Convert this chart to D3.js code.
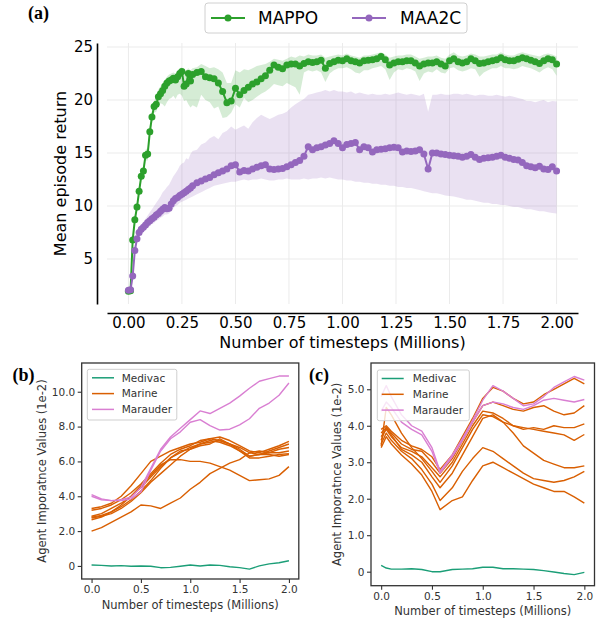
<!DOCTYPE html>
<html><head><meta charset="utf-8">
<script src="https://cdn.jsdelivr.net/npm/d3@7"></script>
<style>body{margin:0;background:#fff}svg{display:block}</style>
</head><body><svg id="chart" width="603" height="618" font-family="DejaVu Sans, sans-serif"></svg>
<script>
// ---------- Panel (a) data ----------
const steps = [
 0.00,0.01,0.02,0.03,0.04,0.05,0.06,0.07,0.08,0.09,
 0.10,0.11,0.12,0.13,0.14,0.15,0.16,0.17,0.18,0.19,
 0.20,0.21,0.22,0.23,0.24,0.25,0.26,0.27,0.28,0.29,0.30,
 0.32,0.34,0.36,0.38,0.40,0.42,0.44,0.46,0.48,0.50,
 0.52,0.54,0.56,0.58,0.60,0.62,0.64,0.66,0.68,0.70,
 0.72,0.74,0.76,0.78,0.80,0.82,0.84,0.86,0.88,0.90,
 0.92,0.94,0.96,0.98,1.00,1.02,1.04,1.06,1.08,1.10,
 1.12,1.14,1.16,1.18,1.20,1.22,1.24,1.26,1.28,1.30,
 1.32,1.34,1.36,1.38,1.40,1.42,1.44,1.46,1.48,1.50,
 1.52,1.54,1.56,1.58,1.60,1.62,1.64,1.66,1.68,1.70,
 1.72,1.74,1.76,1.78,1.80,1.82,1.84,1.86,1.88,1.90,
 1.92,1.94,1.96,1.98,2.00];
const mappoMean = [
 1.95,2.0,6.8,8.7,9.9,11.4,12.8,13.3,14.8,14.9,
 17.0,18.4,19.4,19.6,20.3,20.6,20.9,21.3,21.6,21.8,
 21.9,22.05,21.9,22.2,22.5,22.7,21.3,21.5,22.5,21.8,22.4,
 22.6,22.7,22.2,22.1,22.0,21.6,20.8,19.75,19.9,21.1,
 20.5,20.9,21.2,21.5,21.7,22.0,22.3,22.8,23.3,23.1,
 22.95,23.3,23.4,23.4,23.2,23.45,23.6,23.55,23.6,23.75,
 23.0,23.45,23.6,23.75,23.7,23.9,23.7,23.6,23.5,23.7,
 23.75,23.8,23.9,24.1,23.8,23.3,23.5,23.6,23.6,23.7,
 23.7,23.5,23.2,23.4,23.5,23.5,23.6,23.4,23.2,23.7,
 23.9,23.6,23.5,23.6,23.9,23.7,23.45,23.5,23.6,23.7,
 23.8,24.0,23.8,23.7,23.7,23.85,24.0,23.9,23.75,23.6,
 23.45,23.7,23.9,23.8,23.4];
const mappoHi = [
 2.1,2.2,7.2,9.1,10.3,11.8,13.2,13.8,15.3,15.5,
 17.6,19.0,19.9,20.3,21.0,21.3,21.6,21.9,22.2,22.4,
 22.5,22.6,22.5,22.8,23.0,23.1,22.6,22.8,23.0,22.8,23.0,
 23.1,23.4,23.2,23.0,23.1,22.9,22.6,21.6,21.6,22.8,
 22.6,22.9,22.8,23.0,23.2,23.3,23.4,23.6,23.9,23.8,
 23.7,23.9,24.1,24.0,24.2,24.1,24.3,24.2,24.2,24.3,
 24.0,24.1,24.2,24.3,24.2,24.4,24.2,24.1,24.0,24.2,
 24.2,24.3,24.4,24.5,24.3,24.0,24.1,24.2,24.2,24.3,
 24.3,24.1,23.9,24.0,24.1,24.1,24.2,24.0,23.9,24.3,
 24.5,24.2,24.1,24.2,24.4,24.3,24.1,24.1,24.2,24.3,
 24.3,24.5,24.3,24.2,24.2,24.4,24.5,24.4,24.3,24.2,
 24.1,24.3,24.4,24.3,24.1];
const mappoLo = [
 1.8,1.85,6.4,8.3,9.5,11.0,12.4,12.8,14.3,14.3,
 16.4,17.8,18.8,18.9,19.5,19.7,19.6,19.4,19.8,20.1,
 20.2,20.4,20.1,20.5,20.6,20.4,19.9,20.0,19.6,19.3,19.5,
 19.3,20.5,20.0,19.8,19.2,19.4,18.3,18.4,18.8,19.6,
 19.3,20.2,19.8,20.0,20.3,20.6,20.8,21.1,21.5,21.4,
 21.3,21.6,21.4,21.2,20.5,22.6,22.8,22.7,22.8,22.6,
 21.7,22.5,22.8,23.0,23.0,23.1,22.9,22.6,22.5,22.8,
 22.8,23.0,23.1,23.2,22.9,21.9,22.6,22.9,22.8,23.0,
 22.9,22.7,21.8,22.5,22.7,22.6,22.9,22.6,22.5,23.0,
 23.1,22.8,22.7,22.8,23.0,22.9,22.2,22.6,22.8,23.0,
 23.0,23.2,23.0,23.0,22.9,23.0,23.2,23.1,23.0,22.8,
 22.6,22.9,23.1,22.9,22.3];
const maa2cMean = [
 2.05,2.1,3.4,5.8,6.9,7.5,7.8,8.0,8.2,8.45,
 8.6,8.8,8.95,9.15,9.3,9.5,9.7,9.85,9.75,9.8,
 10.2,10.5,10.7,10.8,11.0,11.1,11.25,11.4,11.55,11.7,11.9,
 12.2,12.35,12.55,12.7,12.95,13.15,13.3,13.5,13.8,13.9,
 13.2,13.35,13.3,13.5,13.65,13.8,13.9,13.5,13.45,13.5,
 13.55,13.7,13.9,14.1,14.3,14.7,15.6,15.3,15.5,15.6,
 15.75,15.9,16.15,15.9,15.5,15.8,15.9,16.0,15.3,15.6,
 15.5,15.1,15.3,15.35,15.4,15.5,15.55,15.5,15.1,15.2,
 15.15,15.2,15.3,14.9,13.5,15.0,15.0,14.9,14.85,14.8,
 14.75,14.7,14.6,14.7,14.85,14.6,14.4,14.5,14.55,14.6,
 14.7,14.8,14.6,14.5,14.4,14.35,14.1,13.8,13.7,13.6,
 13.75,13.5,13.45,13.7,13.3];
const maa2cHi = [
 2.15,2.3,3.8,6.2,7.3,7.9,8.2,8.5,8.8,9.1,
 9.4,9.7,10.0,10.3,10.6,10.9,11.3,11.5,11.8,12.0,
 12.4,12.8,13.1,13.4,13.8,14.0,14.1,14.5,14.4,14.9,15.2,
 15.3,15.8,16.0,16.4,16.6,16.3,16.9,17.1,17.5,17.2,
 17.4,17.6,17.3,17.9,18.3,18.6,18.4,18.2,18.4,18.6,
 18.7,18.9,19.3,19.6,19.85,20.1,20.5,20.6,20.7,20.8,
 20.95,20.8,20.95,20.8,20.8,20.7,20.8,20.6,20.7,20.6,
 20.5,20.6,20.5,20.5,20.6,20.5,20.6,20.7,20.6,20.5,
 20.6,20.5,20.4,20.6,18.9,20.5,20.5,20.6,20.5,20.5,
 20.6,20.6,20.5,20.6,20.5,20.4,20.5,20.5,20.4,20.4,
 20.5,20.4,20.3,20.4,20.3,20.2,20.1,19.9,19.9,19.8,
 19.9,20.0,19.8,19.9,19.85];
const maa2cLo = [
 1.95,1.95,3.0,5.4,6.5,7.1,7.4,7.6,7.8,8.0,
 8.1,8.3,8.4,8.6,8.7,8.9,9.0,9.2,9.2,9.3,
 9.6,9.8,10.0,10.1,10.3,10.4,10.5,10.6,10.7,10.8,10.9,
 11.1,11.3,11.5,11.7,11.9,12.0,12.1,12.2,12.3,12.3,
 12.4,12.5,12.4,12.5,12.5,12.6,12.5,12.4,12.4,12.5,
 12.5,12.6,12.5,12.5,12.5,12.6,12.5,12.6,12.6,12.7,
 12.6,12.7,12.6,12.5,12.5,12.4,12.4,12.3,12.3,12.2,
 12.2,12.1,12.1,12.0,12.0,11.9,11.9,11.8,11.8,11.7,
 11.7,11.6,11.5,11.4,11.3,11.2,11.2,11.1,11.0,10.95,
 10.9,10.8,10.7,10.6,10.6,10.5,10.4,10.3,10.3,10.2,
 10.2,10.1,10.1,10.0,9.9,9.9,9.8,9.7,9.7,9.6,
 9.5,9.5,9.4,9.35,9.3];
const seriesNamesA = ["MAPPO","MAA2C"];
const xTicksA = [0,0.25,0.5,0.75,1.0,1.25,1.5,1.75,2.0];
const yTicksA = [5,10,15,20,25];

// ---------- Panel (b) data ----------
const stepsB = [0,0.1,0.2,0.3,0.4,0.5,0.6,0.7,0.8,0.9,1.0,1.1,1.2,1.3,1.4,1.5,1.6,1.7,1.8,1.9,2.0];
const medivacB = [0.05,0.03,0.0,0.02,-0.02,0.0,-0.02,-0.1,-0.08,-0.02,0.05,0.0,0.05,0.03,-0.05,-0.1,-0.18,0.0,0.12,0.18,0.3];
const marineB = [
 [3.3,3.4,3.6,4.0,4.6,5.3,6.0,6.3,6.6,6.8,7.0,7.1,7.3,7.4,7.2,6.9,6.6,6.5,6.7,6.9,7.15],
 [3.2,3.3,3.5,3.8,4.2,4.7,5.3,5.9,6.4,6.7,6.9,7.2,7.3,7.2,7.0,6.8,6.5,6.6,6.5,6.7,6.8],
 [2.85,3.0,3.3,3.6,4.0,4.5,5.1,5.7,6.2,6.5,6.8,7.0,7.1,7.2,7.0,6.7,6.3,6.4,6.5,6.5,6.6],
 [2.8,2.9,3.1,3.4,3.8,4.3,4.9,5.6,6.2,6.6,6.7,6.9,7.0,7.3,7.0,6.6,6.2,6.2,6.3,6.4,6.45],
 [2.65,2.8,3.1,3.5,4.0,4.6,5.2,5.8,6.1,6.1,6.0,6.0,5.9,5.7,5.5,5.2,4.9,4.95,5.0,5.2,5.7],
 [2.0,2.2,2.5,2.8,3.1,3.5,3.45,3.3,3.6,3.9,4.4,4.8,5.3,5.6,5.9,6.1,6.5,6.4,6.4,6.3,6.4],
 [2.75,2.85,3.0,3.3,3.7,4.2,4.8,5.3,5.8,6.3,6.7,7.0,7.2,7.1,6.9,6.6,6.3,6.4,6.6,6.8,7.0]];
const marauderB = [
 [4.1,3.85,3.75,3.8,3.95,4.5,5.6,6.7,7.4,7.9,8.4,8.9,8.75,9.05,9.35,9.75,10.2,10.6,10.75,10.9,10.9],
 [4.0,3.8,3.75,3.75,3.85,4.25,5.5,6.6,7.3,7.7,8.25,8.4,8.05,7.8,7.85,8.1,8.45,9.05,9.35,9.8,10.5]];
const yTicksB = [0,2,4,6,8,10];

// ---------- Panel (c) data ----------
const stepsC = [0,0.05,0.1,0.2,0.3,0.4,0.5,0.58,0.7,0.8,0.9,1.0,1.1,1.2,1.3,1.4,1.5,1.6,1.7,1.8,1.9,2.0];
const medivacC = [0.17,0.1,0.07,0.07,0.08,0.06,0.0,0.0,0.06,0.07,0.08,0.12,0.12,0.08,0.08,0.07,0.06,0.03,-0.01,-0.05,-0.08,-0.02];
const marineC = [
 [3.9,4.0,3.85,3.6,3.45,3.35,3.15,2.8,3.2,3.7,4.2,4.75,5.05,4.95,4.75,4.6,4.65,4.85,5.0,5.15,5.3,5.15],
 [3.8,3.95,3.8,3.5,3.35,3.3,3.0,2.7,3.1,3.6,4.1,4.55,4.65,4.55,4.45,4.4,4.5,4.55,4.4,4.3,4.35,4.55],
 [3.7,3.9,3.7,3.4,3.3,3.15,2.85,2.6,3.0,3.5,4.0,4.4,4.35,4.2,4.0,3.9,3.95,3.9,4.0,3.95,3.95,4.05],
 [3.45,4.5,4.3,3.8,3.4,3.1,2.75,2.45,2.9,3.4,3.9,4.3,4.25,4.1,4.0,3.95,3.9,3.85,3.8,3.75,3.6,3.76],
 [3.6,3.95,3.75,3.35,3.2,3.0,2.6,2.3,2.7,3.2,3.7,4.2,4.3,4.1,3.8,3.45,3.25,3.05,2.95,2.85,2.85,2.9],
 [3.5,3.8,3.6,3.3,3.1,2.8,2.4,1.95,2.3,2.75,3.1,3.4,3.3,3.1,2.9,2.7,2.55,2.5,2.45,2.5,2.6,2.75],
 [3.4,3.7,3.5,3.2,2.95,2.65,2.2,1.7,1.95,2.05,2.5,2.9,3.0,2.85,2.7,2.55,2.4,2.3,2.2,2.2,2.05,1.88]];
const marauderC = [
 [4.8,5.1,4.8,4.3,4.0,3.85,3.4,2.75,3.2,3.65,4.15,4.7,5.1,4.95,4.75,4.55,4.6,4.8,5.05,5.2,5.35,5.25],
 [4.4,4.65,4.5,4.1,3.9,3.75,3.3,2.7,3.15,3.6,4.1,4.55,4.65,4.6,4.5,4.45,4.55,4.7,4.75,4.7,4.65,4.72]];
const yTicksC = [0,1,2,3,4,5];
const xTicksBC = [0,0.5,1.0,1.5,2.0];
const agentNames = ["Medivac","Marine","Marauder"];

// ---------- drawing ----------
const svg = d3.select("#chart");
const GREEN = "#2ca02c", PURPLE = "#9467bd";
const C_MED = "#1b9e77", C_MAR = "#d95f02", C_MRD = "#d97fd2";
const SERIF = "'Liberation Serif','Times New Roman','DejaVu Serif',serif";

// Panel (a)
const xA = d3.scaleLinear().domain([-0.1, 2.1]).range([107, 578]);
const yA = d3.scaleLinear().domain([0.755, 25.38]).range([304, 43]);
const gA = svg.append("g");
gA.selectAll(".vg").data(xTicksA).join("line")
  .attr("x1", d => xA(d)).attr("x2", d => xA(d)).attr("y1", 43).attr("y2", 304)
  .attr("stroke", "#ebebeb").attr("stroke-width", 1);
gA.selectAll(".hg").data(yTicksA).join("line")
  .attr("x1", 107).attr("x2", 578).attr("y1", d => yA(d)).attr("y2", d => yA(d))
  .attr("stroke", "#ebebeb").attr("stroke-width", 1);

const seriesA = [
  {name: seriesNamesA[0], color: GREEN, mean: mappoMean, lo: mappoLo, hi: mappoHi},
  {name: seriesNamesA[1], color: PURPLE, mean: maa2cMean, lo: maa2cLo, hi: maa2cHi}];
seriesA.forEach(s => {
  gA.append("path").datum(steps)
    .attr("d", d3.area().x(d => xA(d)).y0((d, i) => yA(s.lo[i])).y1((d, i) => yA(s.hi[i])))
    .attr("fill", s.color).attr("fill-opacity", 0.2);
});
seriesA.forEach(s => {
  gA.append("path").datum(steps)
    .attr("d", d3.line().x(d => xA(d)).y((d, i) => yA(s.mean[i])))
    .attr("fill", "none").attr("stroke", s.color).attr("stroke-width", 2);
  gA.selectAll(null).data(steps).join("circle")
    .attr("cx", d => xA(d)).attr("cy", (d, i) => yA(s.mean[i])).attr("r", 3.5)
    .attr("fill", s.color);
});

const axA = gA.append("g").attr("transform", "translate(97,0)")
  .call(d3.axisLeft(yA).tickValues(yTicksA).tickSize(0).tickSizeOuter(0).tickPadding(4).tickFormat(d3.format("d")));
const axAx = gA.append("g").attr("transform", "translate(0,313)")
  .call(d3.axisBottom(xA).tickValues(xTicksA).tickSize(0).tickSizeOuter(0).tickPadding(4).tickFormat(d3.format(".2f")));
[axA, axAx].forEach(a => {
  a.attr("font-family", null).attr("font-size", null);
  a.select(".domain").attr("stroke", "#000").attr("stroke-width", 1.6);
  a.selectAll("text").attr("font-size", 15).attr("fill", "#000");
});
gA.append("text").attr("transform", "translate(66,173.5) rotate(-90)").attr("text-anchor", "middle")
  .attr("font-size", 16).attr("fill", "#000").text("Mean episode return");
gA.append("text").attr("x", 342.5).attr("y", 348).attr("text-anchor", "middle")
  .attr("font-size", 16).attr("fill", "#000").text("Number of timesteps (Millions)");

// legend (a)
const lgA = gA.append("g");
lgA.append("rect").attr("x", 205).attr("y", 3).attr("width", 262).attr("height", 30).attr("rx", 3)
  .attr("fill", "#fff").attr("stroke", "#d0d0d0");
[[211, 258], [352, 400]].forEach(([hx, tx], i) => {
  const s = seriesA[i];
  lgA.append("line").attr("x1", hx).attr("x2", hx + 34).attr("y1", 18).attr("y2", 18)
    .attr("stroke", s.color).attr("stroke-width", 2);
  lgA.append("circle").attr("cx", hx + 17).attr("cy", 18).attr("r", 3.5).attr("fill", s.color);
  lgA.append("text").attr("x", tx).attr("y", 18).attr("dy", "0.36em").attr("font-size", 17)
    .attr("fill", "#000").text(s.name);
});

// panels (b), (c)
function panel(cfg) {
  const g = svg.append("g");
  const x = d3.scaleLinear().domain([-0.1, 2.1]).range([cfg.left, cfg.right]);
  const y = d3.scaleLinear().domain(cfg.ydom).range([cfg.bottom, cfg.top]);
  const line = d3.line().x((d, i) => x(cfg.steps[i])).y(d => y(d));
  const draw = (arr, color) => g.append("path").datum(arr).attr("d", line)
    .attr("fill", "none").attr("stroke", color).attr("stroke-width", 1.4).attr("stroke-linejoin", "round");
  draw(cfg.medivac, C_MED);
  cfg.marine.forEach(a => draw(a, C_MAR));
  cfg.marauder.forEach(a => draw(a, C_MRD));
  const fmt = d => d === 0 ? "0" : d3.format(".1f")(d);
  const ay = g.append("g").attr("transform", `translate(${cfg.left},0)`)
    .call(d3.axisLeft(y).tickValues(cfg.yticks).tickSize(4).tickSizeOuter(0).tickPadding(2.5).tickFormat(fmt));
  const ax = g.append("g").attr("transform", `translate(0,${cfg.bottom})`)
    .call(d3.axisBottom(x).tickValues(xTicksBC).tickSize(4).tickSizeOuter(0).tickPadding(2.5).tickFormat(d3.format(".1f")));
  [ay, ax].forEach(a => {
    a.attr("font-family", null).attr("font-size", null);
    a.select(".domain").remove();
    a.selectAll(".tick line").attr("stroke", "#333").attr("stroke-width", 1.1);
    a.selectAll("text").attr("font-size", 10.5).attr("fill", "#333");
  });
  g.append("rect").attr("x", cfg.left).attr("y", cfg.top).attr("width", cfg.right - cfg.left)
    .attr("height", cfg.bottom - cfg.top).attr("fill", "none").attr("stroke", "#333").attr("stroke-width", 1.3);
  g.append("text").attr("transform", `translate(${cfg.ylabx},${(cfg.top + cfg.bottom) / 2}) rotate(-90)`)
    .attr("text-anchor", "middle").attr("font-size", 11.5).attr("fill", "#333")
    .text("Agent Imporatnce Values (1e-2)");
  g.append("text").attr("x", (cfg.left + cfg.right) / 2).attr("y", cfg.xlaby).attr("text-anchor", "middle")
    .attr("font-size", 11.5).attr("fill", "#333").text("Number of timesteps (Millions)");
  const L = cfg.leg;
  g.append("rect").attr("x", L.x).attr("y", L.y).attr("width", L.w).attr("height", L.h).attr("rx", 2)
    .attr("fill", "#fff").attr("fill-opacity", 0.8).attr("stroke", "#cfcfcf");
  [C_MED, C_MAR, C_MRD].forEach((c, i) => {
    const yy = L.y + 8.5 + i * 15.8;
    g.append("line").attr("x1", L.hx).attr("x2", L.hx + 22).attr("y1", yy).attr("y2", yy)
      .attr("stroke", c).attr("stroke-width", 1.5);
    g.append("text").attr("x", L.tx).attr("y", yy).attr("dy", "0.36em").attr("font-size", 10.5)
      .attr("fill", "#333").text(agentNames[i]);
  });
  svg.append("text").attr("x", cfg.tagx).attr("y", 381).style("font-family", SERIF)
    .attr("font-weight", "bold").attr("font-size", 18).attr("fill", "#000").text(cfg.tag);
}

panel({left: 81.7, right: 298.8, top: 363, bottom: 579, ydom: [-0.75, 11.65],
  steps: stepsB, medivac: medivacB, marine: marineB, marauder: marauderB, yticks: yTicksB,
  ylabx: 46, xlaby: 609, leg: {x: 87.3, y: 369.3, w: 89.5, h: 50.7, hx: 92, tx: 121.7},
  tag: "(b)", tagx: 12.5});
panel({left: 371, right: 594.5, top: 363, bottom: 585.7, ydom: [-0.384, 5.72],
  steps: stepsC, medivac: medivacC, marine: marineC, marauder: marauderC, yticks: yTicksC,
  ylabx: 341, xlaby: 615, leg: {x: 377.3, y: 370, w: 92, h: 50.7, hx: 381.7, tx: 412.7},
  tag: "(c)", tagx: 309});

svg.append("text").attr("x", 28).attr("y", 19).style("font-family", SERIF)
  .attr("font-weight", "bold").attr("font-size", 18).attr("fill", "#000").text("(a)");
</script></body></html>
